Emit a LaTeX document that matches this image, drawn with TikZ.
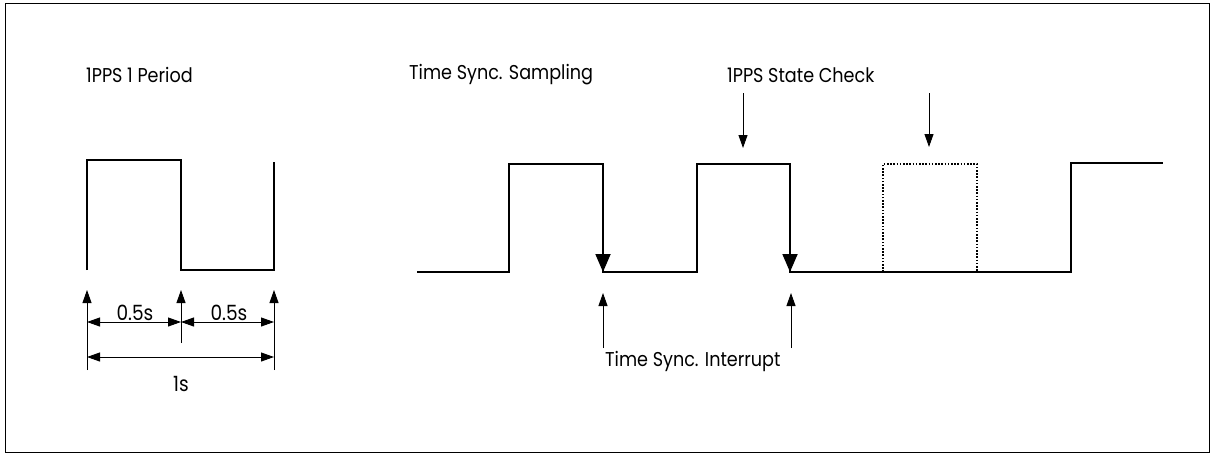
\documentclass[tikz,border=0pt]{standalone}
\usepackage{fontspec}
\setmainfont{Poppins}[FakeStretch=0.88]
\usetikzlibrary{arrows.meta}
\begin{document}
\begin{tikzpicture}[x=1pt,y=-1pt,
  wave/.style={line width=1.8pt, line join=miter, line cap=butt},
  thinline/.style={line width=0.9pt},
  uptip/.style={-{Triangle[length=13pt,width=9pt]}},
  dimarrow/.style={thinline,{Triangle[length=13pt,width=9pt]}-{Triangle[length=13pt,width=9pt]}},
  bigtip/.style={-{Triangle[length=18pt,width=15pt]}},
  lbl/.style={font=\fontsize{20}{22}\selectfont, inner sep=0pt, anchor=west},
  dimlbl/.style={font=\fontsize{21}{23}\selectfont, inner sep=0pt}]
\useasboundingbox (0,0) rectangle (1213,455);
\draw[line width=0.8pt] (5,3) rectangle (1209,452);

% titles
\node[lbl] (t1) at (86,75) {1PPS 1 Period};
\node[lbl] (t2) at (409,75) {Time Sync. Sampling};
\node[lbl] (t3) at (727,75) {1PPS State Check};
\node[lbl] (t4) at (605,361) {Time Sync. Interrupt};

% left period waveform
\draw[wave] (87,270) -- (87,160) -- (181,160) -- (181,270) -- (274,270) -- (274,162);

% dimension markers
\coordinate (m1b) at (87,370);   \coordinate (m1t) at (87,290);
\coordinate (m2b) at (181,343);  \coordinate (m2t) at (181,290);
\coordinate (m3b) at (274,370);  \coordinate (m3t) at (274,290);
\draw[thinline,uptip] (m1b) -- (m1t);
\draw[thinline,uptip] (m2b) -- (m2t);
\draw[thinline,uptip] (m3b) -- (m3t);
\coordinate (h1) at (87,322); \coordinate (h2) at (181,322); \coordinate (h3) at (274,322);
\draw[dimarrow] (h1) -- (h2);
\draw[dimarrow] (h2) -- (h3);
\coordinate (g1) at (87,357); \coordinate (g3) at (274,357);
\draw[dimarrow] (g1) -- (g3);
\node[dimlbl] (d1) at (135,313) {0.5s};
\node[dimlbl] (d2) at (229,313) {0.5s};
\node[dimlbl] (d3) at (181,384) {1s};

% right waveform
\coordinate (f1t) at (603,164); \coordinate (f1m) at (603,230); \coordinate (f1b) at (603,272);
\coordinate (f2t) at (790,164); \coordinate (f2m) at (790,230); \coordinate (f2b) at (790,272);
\draw[wave] (417,272) -- (509,272) -- (509,164) -- (f1t) -- (f1b) -- (697,272) -- (697,164)
  -- (f2t) -- (f2b) -- (1071,272) -- (1071,163) -- (1163,163);
\draw[wave,bigtip] (f1m) -- (f1b);
\draw[wave,bigtip] (f2m) -- (f2b);
\draw[line width=1.6pt, dash pattern=on 1.6pt off 1.6pt] (883,272) -- (883,164) -- (977,164) -- (977,272);

% interrupt arrows
\coordinate (i1b) at (603,348); \coordinate (i1t) at (603,293);
\coordinate (i2b) at (791,348); \coordinate (i2t) at (791,293);
\draw[thinline,uptip] (i1b) -- (i1t);
\draw[thinline,uptip] (i2b) -- (i2t);

% state check arrows
\coordinate (s1t) at (743,93); \coordinate (s1b) at (743,148);
\coordinate (s2t) at (929,93); \coordinate (s2b) at (929,147);
\draw[thinline,uptip] (s1t) -- (s1b);
\draw[thinline,uptip] (s2t) -- (s2b);
\end{tikzpicture}
\end{document}
